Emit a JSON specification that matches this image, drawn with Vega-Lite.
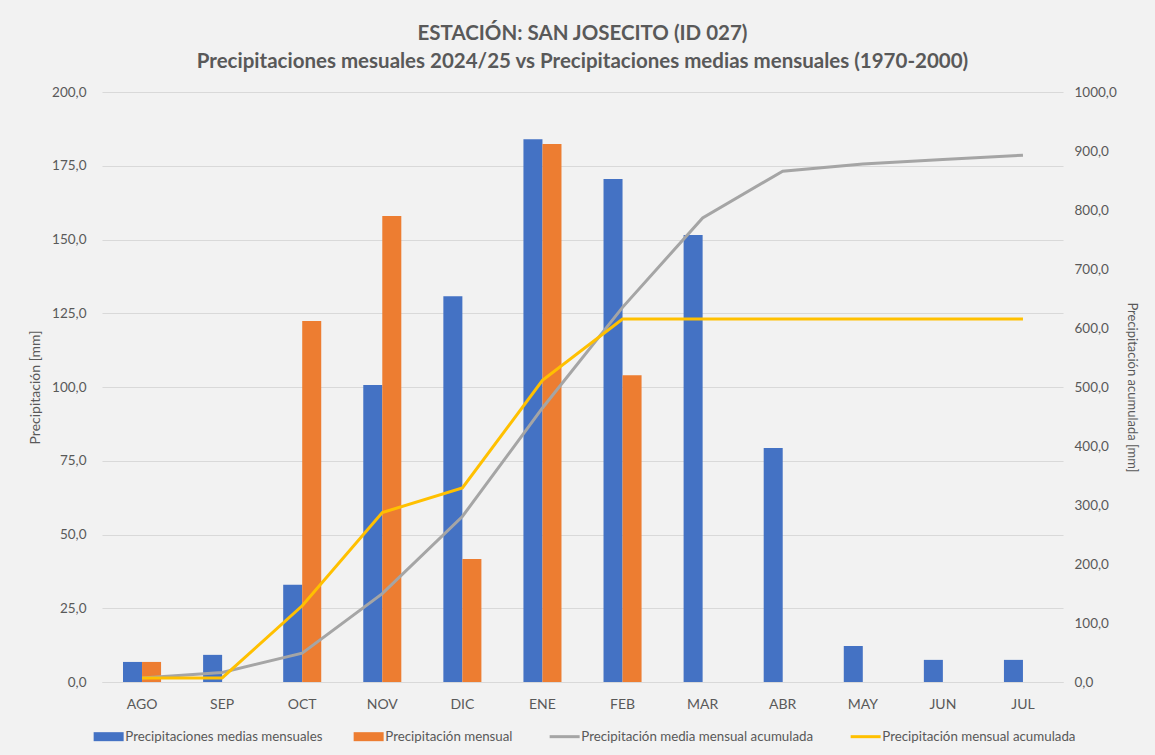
{
  "$schema": "https://vega.github.io/schema/vega-lite/v6.json",
  "width": 961,
  "height": 590,
  "autosize": {"type": "none"},
  "padding": {"left": 102, "top": 92, "right": 92, "bottom": 73},
  "background": "#f2f2f2",
  "config": {
    "font": "Lato",
    "view": {"stroke": null},
    "locale": {"number": {"decimal": ",", "thousands": ".", "grouping": [3], "currency": ["", " €"]}},
    "axis": {"labelFont": "Lato", "labelFontSize": 13.5, "labelColor": "#595959", "titleFont": "Lato", "titleFontSize": 13.5, "titleColor": "#595959", "titleFontWeight": "normal", "ticks": false, "domain": false, "gridColor": "#d9d9d9", "gridWidth": 1},
    "legend": {"labelFont": "Lato", "labelFontSize": 13.3, "labelColor": "#595959"}
  },
  "title": {
    "text": ["ESTACIÓN: SAN JOSECITO (ID 027)", "Precipitaciones mesuales 2024/25 vs Precipitaciones medias mensuales (1970-2000)"],
    "font": "Lato",
    "fontSize": 20.5,
    "fontWeight": "bold",
    "color": "#595959",
    "lineHeight": 28,
    "anchor": "middle",
    "offset": 13
  },
  "datasets": {
    "barras": [
      {"mes": "AGO", "serie": "Precipitaciones medias mensuales", "valor": 6.8},
      {"mes": "SEP", "serie": "Precipitaciones medias mensuales", "valor": 9.2},
      {"mes": "OCT", "serie": "Precipitaciones medias mensuales", "valor": 33.0},
      {"mes": "NOV", "serie": "Precipitaciones medias mensuales", "valor": 100.7},
      {"mes": "DIC", "serie": "Precipitaciones medias mensuales", "valor": 130.8},
      {"mes": "ENE", "serie": "Precipitaciones medias mensuales", "valor": 184.0},
      {"mes": "FEB", "serie": "Precipitaciones medias mensuales", "valor": 170.5},
      {"mes": "MAR", "serie": "Precipitaciones medias mensuales", "valor": 151.5},
      {"mes": "ABR", "serie": "Precipitaciones medias mensuales", "valor": 79.3},
      {"mes": "MAY", "serie": "Precipitaciones medias mensuales", "valor": 12.2},
      {"mes": "JUN", "serie": "Precipitaciones medias mensuales", "valor": 7.5},
      {"mes": "JUL", "serie": "Precipitaciones medias mensuales", "valor": 7.5},
      {"mes": "AGO", "serie": "Precipitación mensual", "valor": 6.8},
      {"mes": "SEP", "serie": "Precipitación mensual", "valor": 0.0},
      {"mes": "OCT", "serie": "Precipitación mensual", "valor": 122.4},
      {"mes": "NOV", "serie": "Precipitación mensual", "valor": 158.0},
      {"mes": "DIC", "serie": "Precipitación mensual", "valor": 41.7},
      {"mes": "ENE", "serie": "Precipitación mensual", "valor": 182.4},
      {"mes": "FEB", "serie": "Precipitación mensual", "valor": 104.0}
    ],
    "acum": [
      {"mes": "AGO", "serie": "Precipitación media mensual acumulada", "valor": 6.8},
      {"mes": "SEP", "serie": "Precipitación media mensual acumulada", "valor": 16.0},
      {"mes": "OCT", "serie": "Precipitación media mensual acumulada", "valor": 49.0},
      {"mes": "NOV", "serie": "Precipitación media mensual acumulada", "valor": 149.7},
      {"mes": "DIC", "serie": "Precipitación media mensual acumulada", "valor": 280.5},
      {"mes": "ENE", "serie": "Precipitación media mensual acumulada", "valor": 464.5},
      {"mes": "FEB", "serie": "Precipitación media mensual acumulada", "valor": 635.0},
      {"mes": "MAR", "serie": "Precipitación media mensual acumulada", "valor": 786.5},
      {"mes": "ABR", "serie": "Precipitación media mensual acumulada", "valor": 865.8},
      {"mes": "MAY", "serie": "Precipitación media mensual acumulada", "valor": 878.0},
      {"mes": "JUN", "serie": "Precipitación media mensual acumulada", "valor": 885.5},
      {"mes": "JUL", "serie": "Precipitación media mensual acumulada", "valor": 893.0},
      {"mes": "AGO", "serie": "Precipitación mensual acumulada", "valor": 6.8},
      {"mes": "SEP", "serie": "Precipitación mensual acumulada", "valor": 6.8},
      {"mes": "OCT", "serie": "Precipitación mensual acumulada", "valor": 129.2},
      {"mes": "NOV", "serie": "Precipitación mensual acumulada", "valor": 287.2},
      {"mes": "DIC", "serie": "Precipitación mensual acumulada", "valor": 328.9},
      {"mes": "ENE", "serie": "Precipitación mensual acumulada", "valor": 511.3},
      {"mes": "FEB", "serie": "Precipitación mensual acumulada", "valor": 615.3},
      {"mes": "MAR", "serie": "Precipitación mensual acumulada", "valor": 615.3},
      {"mes": "ABR", "serie": "Precipitación mensual acumulada", "valor": 615.3},
      {"mes": "MAY", "serie": "Precipitación mensual acumulada", "valor": 615.3},
      {"mes": "JUN", "serie": "Precipitación mensual acumulada", "valor": 615.3},
      {"mes": "JUL", "serie": "Precipitación mensual acumulada", "valor": 615.3}
    ]
  },
  "encoding": {
    "x": {
      "field": "mes",
      "type": "nominal",
      "sort": ["AGO", "SEP", "OCT", "NOV", "DIC", "ENE", "FEB", "MAR", "ABR", "MAY", "JUN", "JUL"],
      "scale": {"domain": ["AGO", "SEP", "OCT", "NOV", "DIC", "ENE", "FEB", "MAR", "ABR", "MAY", "JUN", "JUL"], "paddingInner": 0.525, "paddingOuter": 0.2625},
      "axis": {"title": null, "labelAngle": 0, "labelPadding": 15, "labelFontSize": 14, "domain": true, "domainColor": "#d9d9d9", "domainWidth": 1}
    },
    "color": {
      "field": "serie",
      "type": "nominal",
      "scale": {
        "domain": ["Precipitaciones medias mensuales", "Precipitación mensual", "Precipitación media mensual acumulada", "Precipitación mensual acumulada"],
        "range": ["#4472c4", "#ed7d31", "#a5a5a5", "#ffc000"]
      },
      "legend": {
        "title": null,
        "orient": "bottom",
        "direction": "horizontal",
        "columns": 4,
        "columnPadding": 30,
        "offset": 19,
        "symbolSize": 900,
        "labelOffset": 10,
        "labelLimit": 400,
        "encode": {
          "symbols": {
            "update": {
              "shape": {"signal": "test(/acumulada/, datum.value) ? 'stroke' : 'M-1,-0.3H1V0.3H-1Z'"},
              "fill": {"signal": "scale('color', datum.value)"},
              "stroke": {"signal": "scale('color', datum.value)"},
              "strokeWidth": {"signal": "test(/acumulada/, datum.value) ? 3 : 0"},
              "opacity": {"value": 1},
              "fillOpacity": {"value": 1}
            }
          }
        }
      }
    }
  },
  "layer": [
    {
      "data": {"name": "barras"},
      "mark": {"type": "bar"},
      "encoding": {
        "xOffset": {"field": "serie", "type": "nominal", "scale": {"domain": ["Precipitaciones medias mensuales", "Precipitación mensual"], "paddingInner": 0, "paddingOuter": 0}},
        "y": {
          "field": "valor",
          "type": "quantitative",
          "scale": {"domain": [0, 200], "nice": false},
          "axis": {"title": "Precipitación [mm]", "titleFontSize": 14, "values": [0, 25, 50, 75, 100, 125, 150, 175, 200], "format": ".1f", "labelPadding": 16, "titlePadding": 9, "grid": true}
        }
      }
    },
    {
      "data": {"name": "acum"},
      "mark": {"type": "line", "strokeWidth": 3},
      "encoding": {
        "y": {
          "field": "valor",
          "type": "quantitative",
          "scale": {"domain": [0, 1000], "nice": false},
          "axis": {"title": "Precipitación acumulada [mm]", "titleFontSize": 13, "values": [0, 100, 200, 300, 400, 500, 600, 700, 800, 900, 1000], "format": ".1f", "labelPadding": 11, "titlePadding": 8, "grid": false}
        }
      }
    }
  ],
  "resolve": {"scale": {"y": "independent"}}
}
